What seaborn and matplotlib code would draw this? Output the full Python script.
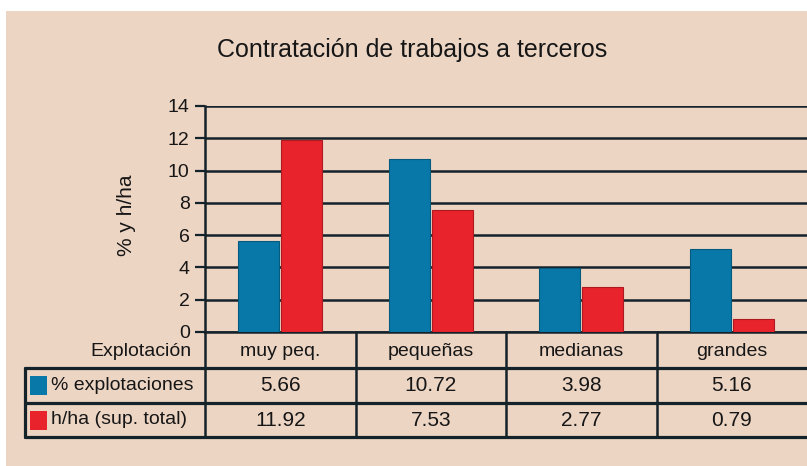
import numpy as np
import pandas as pd
import matplotlib
matplotlib.use("Agg")
import matplotlib.pyplot as plt
import seaborn as sns
from matplotlib.transforms import blended_transform_factory
from matplotlib.lines import Line2D
from matplotlib.patches import Rectangle

# ---- data ----
categorias = ["muy peq.", "pequeñas", "medianas", "grandes"]
series = ["% explotaciones", "h/ha (sup. total)"]
explotaciones = [5.66, 10.72, 3.98, 5.16]
h_ha = [11.92, 7.53, 2.77, 0.79]
yticks = [0, 2, 4, 6, 8, 10, 12, 14]
titulo = "Contratación de trabajos a terceros"
ylabel = "% y h/ha"
encabezado = "Explotación"

# ---- style ----
BG = "#EDD5C4"
BLUE = "#0878A8"
RED = "#E8232B"
LINE = "#14222A"
TXT = "#161616"

sns.set_theme(style="white")
plt.rcParams["font.family"] = ["Liberation Sans Narrow", "Liberation Sans", "DejaVu Sans"]

W, H = 807, 466
fig = plt.figure(figsize=(W / 100, H / 100), dpi=100, facecolor="white")


def fx(px):
    return px / W


def fy(py):
    return 1 - py / H


fig.patches.append(Rectangle((fx(6), 0), 1 - fx(6), fy(11), transform=fig.transFigure,
                             facecolor=BG, edgecolor="none", zorder=-10))

ax = fig.add_axes([fx(205), fy(332), 1 - fx(205), fy(106) - fy(332)])
ax.set_facecolor("none")

df = pd.DataFrame({
    "Explotación": categorias * 2,
    "valor": explotaciones + h_ha,
    "serie": [series[0]] * len(categorias) + [series[1]] * len(categorias),
})
sns.barplot(data=df, x="Explotación", y="valor", hue="serie", hue_order=series,
            palette=[BLUE, RED], width=0.57, gap=0.04, saturation=1,
            ax=ax, legend=False, zorder=3)
for p in ax.patches:
    fc = p.get_facecolor()
    p.set_edgecolor(tuple(c * 0.75 for c in fc[:3]))
    p.set_linewidth(0.8)

ax.set_xlim(-0.5, len(categorias) - 0.5)
ax.set_ylim(0, 14)
ax.set_yticks(yticks)
ax.set_yticklabels([str(t) for t in yticks])
ax.grid(axis="y", color=LINE, linewidth=1.8)
ax.grid(axis="x", visible=False)
ax.set_axisbelow(True)
for s in ["top", "right"]:
    ax.spines[s].set_visible(False)
for s in ["left", "bottom"]:
    ax.spines[s].set_color(LINE)
    ax.spines[s].set_linewidth(1.8)
ax.tick_params(axis="y", length=7, width=1.6, color=LINE, pad=4, labelsize=14, labelcolor=TXT, left=True)
ax.tick_params(axis="x", bottom=False, labelbottom=False)
ax.set_xlabel("")
ax.set_ylabel("")

# ---- table ----
bt = blended_transform_factory(ax.transData, fig.transFigure)
for i in range(len(categorias)):
    fig.add_artist(Line2D([i - 0.5, i - 0.5], [fy(332), fy(437)], transform=bt,
                          color=LINE, linewidth=1.8))
for yy in [368, 403, 437]:
    fig.add_artist(Line2D([fx(25), 1], [fy(yy), fy(yy)], transform=fig.transFigure,
                          color=LINE, linewidth=2.3))
fig.add_artist(Line2D([fx(25), fx(25)], [fy(368), fy(437)], transform=fig.transFigure,
                      color=LINE, linewidth=2.3))

fs = 14
fig.text(fx(191), fy(352), encabezado, ha="right", va="center", fontsize=fs, color=TXT)
for i, c in enumerate(categorias):
    fig.text(i, fy(352), c, transform=bt, ha="center", va="center", fontsize=fs, color=TXT)

rows_y = [385.5, 420]
colores = [BLUE, RED]
valores = [explotaciones, h_ha]
for r in range(2):
    fig.patches.append(Rectangle((fx(30), fy(rows_y[r] + 9.5)), fx(47) - fx(30), fy(rows_y[r] - 9.5) - fy(rows_y[r] + 9.5),
                                 transform=fig.transFigure, facecolor=colores[r], edgecolor="none"))
    fig.text(fx(51), fy(rows_y[r]), series[r], ha="left", va="center", fontsize=fs, color=TXT)
    for i, v in enumerate(valores[r]):
        fig.text(i, fy(rows_y[r]), f"{v:.2f}", transform=bt, ha="center", va="center",
                 fontsize=fs + 1, color=TXT)

fig.text(fx(127), fy(215), ylabel, rotation=90, ha="center", va="center", fontsize=fs + 1, color=TXT)
fig.text(fx(412), fy(50), titulo, ha="center", va="center", fontsize=18, color=TXT,
         family=["Liberation Sans", "DejaVu Sans"])

fig.savefig("out.png", dpi=100, facecolor="white")
